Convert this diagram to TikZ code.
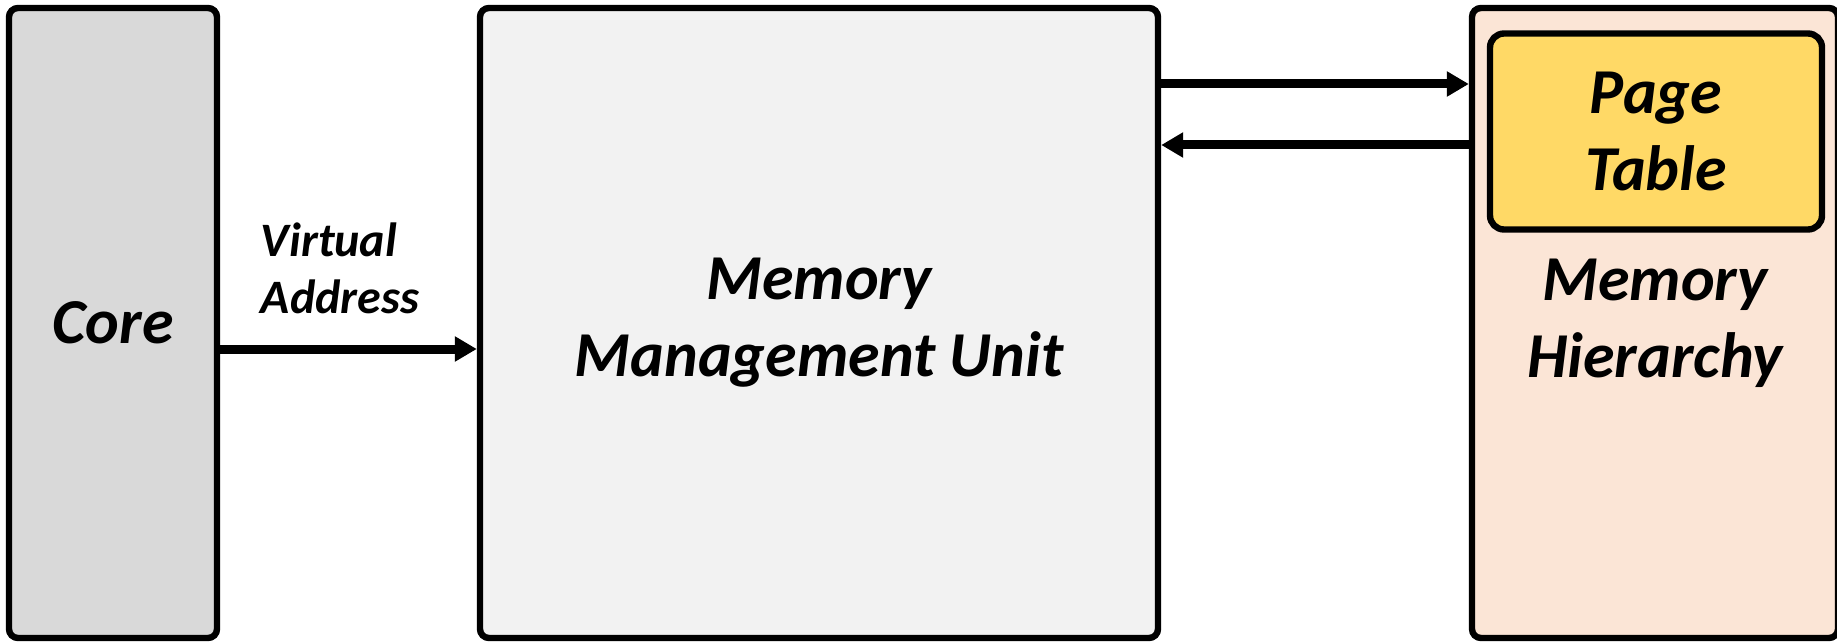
\documentclass[tikz,border=0pt]{standalone}
\usepackage{fontspec}
\setmainfont{Carlito}
\usetikzlibrary{arrows.meta}

\definecolor{coregray}{HTML}{D9D9D9}
\definecolor{mmugray}{HTML}{F2F2F2}
\definecolor{mempeach}{HTML}{FBE5D6}
\definecolor{ptyellow}{HTML}{FFD966}

\begin{document}
\begin{tikzpicture}[x=0.5pt,y=-0.5pt,
  box/.style={draw=black, line width=3.2pt, rounded corners=4.5pt, inner sep=0pt},
  lbl/.style={font=\fontsize{32}{38.4}\selectfont\bfseries\itshape, align=center},
  small/.style={font=\fontsize{24}{28.5}\selectfont\bfseries\itshape, align=left, inner sep=0pt},
  conn/.style={line width=4.5pt, -{Triangle[length=11pt,width=12pt]}},
]
\useasboundingbox (0,0) rectangle (1837,642);

% blocks
\node[box, fill=coregray, minimum width=104pt, minimum height=315pt] (core) at (113,323) {};
\node[box, fill=mmugray, minimum width=339pt, minimum height=315pt] (mmu) at (819,323) {};
\node[box, fill=mempeach, minimum width=183pt, minimum height=315pt] (mem) at (1655,323) {};
\node[box, fill=ptyellow, rounded corners=7pt, minimum width=166pt, minimum height=98pt] (pt) at (1656,131.5) {};

% labels
\node[lbl] (corel) at (core.center) {Core};
\node[lbl] (mmul) at (mmu.center) {Memory\\Management Unit};
\node[lbl] (meml) at (mem.center) {Memory\\Hierarchy};
\node[lbl] (ptl) at (pt.center) {Page\\Table};

% connectors
\coordinate (va) at (0,349);
\coordinate (req) at (0,84);
\coordinate (resp) at (0,145);
\draw[conn] (core.east |- va) -- (mmu.west |- va);
\draw[conn] (mmu.east |- req) -- (mem.west |- req);
\draw[conn] (mem.west |- resp) -- (mmu.east |- resp);

\node[small] (val) at (340,268) {Virtual\\Address};
\end{tikzpicture}
\end{document}
